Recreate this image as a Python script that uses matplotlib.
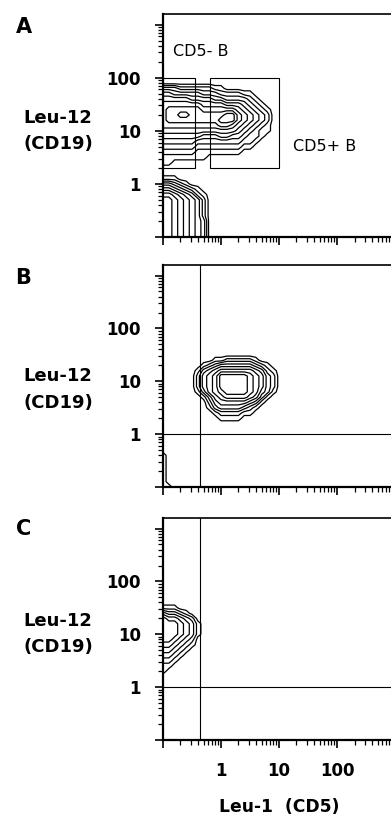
import numpy as np
import matplotlib
matplotlib.use('Agg')
import matplotlib.pyplot as plt
from matplotlib.patches import Rectangle

# Contour counts: each character says how many contour
# lines enclose that grid point.  Grid steps 0.1 decade on both axes,
# columns start at log10 = -1.0, rows run downwards from the given top.
grid_step = 0.1
grid_x0 = -1.0

a_top = 2.2
a_rows = [
    "000000000000000000000",
    "000000000000000000000",
    "000000000000000000000",
    "000000000000000000000",
    "333222222110000000000",
    "554444433322221100000",
    "666665555443333210000",
    "777777766665554321000",
    "788888877777765432100",
    "788998888889976543200",
    "788888888899976543200",
    "777777777788765432100",
    "666666666666654321100",
    "555555544455443221000",
    "444444333333332210000",
    "333333222222221100000",
    "222222111111110000000",
    "111111110000000000000",
    "110000000000000000000",
    "000000000000000000000",
    "000000000000000000000",
    "111000000000000000000",
    "443210000000000000000",
    "665432100000000000000",
    "887654210000000000000",
    "998765420000000000000",
    "998765420000000000000",
    "998765420000000000000",
    "998765420000000000000",
    "998765430000000000000",
    "998765430000000000000",
    "998765430000000000000",
    "998765430000000000000",
]

b_top = 1.6
b_rows = [
    "0000000000000000000000",
    "0000000000000000000000",
    "0000000001122222100000",
    "0000000123444444321000",
    "0000001345666666542100",
    "0000002456888887653200",
    "0000002456888887653200",
    "0000002456888887653200",
    "0000001356788887643100",
    "0000000135677776531000",
    "0000000024555554310000",
    "0000000013444432100000",
    "0000000001222211000000",
    "0000000000111100000000",
    "0000000000000000000000",
    "0000000000000000000000",
    "0000000000000000000000",
    "0000000000000000000000",
    "0000000000000000000000",
    "0000000000000000000000",
    "1000000000000000000000",
    "1000000000000000000000",
    "1000000000000000000000",
    "1000000000000000000000",
    "1000000000000000000000",
    "1000000000000000000000",
    "1100000000000000000000",
]

c_top = 1.7
c_rows = [
    "000000000000",
    "000000000000",
    "111000000000",
    "433210000000",
    "655432000000",
    "666543100000",
    "666543100000",
    "666543100000",
    "665432000000",
    "554321000000",
    "443210000000",
    "332100000000",
    "221000000000",
    "110000000000",
    "100000000000",
    "000000000000",
]

# gates
cd5_neg_box = (0.1, 0.356, 2.0, 100.0)     # x0, x1, y0, y1
cd5_pos_box = (0.646, 10.0, 2.0, 100.0)
cd5_cut = 0.435
cd19_cut = 1.0

tick_pos = [0.1, 1, 10, 100, 1000]
tick_text = ['', '1', '10', '100', '']
panel_names = ['A', 'B', 'C']
label_y = [10, 7, 10]

plt.rcParams['font.family'] = 'DejaVu Sans'

W, H = 391, 816
fig = plt.figure(figsize=(W / 100, H / 100), dpi=100)

# axes boxes in pixels: top, bottom
boxes = [(14, 237), (265, 487), (518, 740)]
left_px = 163


def level_grid(rows, top):
    z = np.array([[int(ch) for ch in r] for r in rows], dtype=float)
    xs = 10 ** (grid_x0 + grid_step * np.arange(z.shape[1]))
    ys = 10 ** (top - grid_step * np.arange(z.shape[0]))
    X, Y = np.meshgrid(xs, ys)
    return X, Y, z


axes = []
for i, (t, b) in enumerate(boxes):
    ax = fig.add_axes([left_px / W, 1 - b / H, (W - left_px) / W, (b - t) / H])
    ax.set_xscale('log')
    ax.set_yscale('log')
    ax.spines['right'].set_visible(False)
    ax.spines['left'].set_linewidth(1.6)
    ax.spines['bottom'].set_linewidth(1.6)
    ax.spines['top'].set_linewidth(1.2)

    ax.set_yticks(tick_pos, labels=tick_text)
    if i == 2:
        ax.set_xticks(tick_pos, labels=tick_text)
    else:
        ax.set_xticks(tick_pos, labels=[''] * len(tick_pos))
    ax.set_xlim(0.1, 10 ** 2.93)
    ax.set_ylim(0.1, 10 ** 3.2)
    ax.tick_params(which='major', direction='out', length=6, width=1.2,
                   labelsize=12)
    ax.tick_params(which='minor', direction='out', length=3.5, width=0.9)
    ax.tick_params(axis='y', which='major', pad=10)
    ax.tick_params(axis='x', which='major', pad=10)
    for lab in ax.get_xticklabels() + ax.get_yticklabels():
        lab.set_fontweight('bold')
    ax.tick_params(axis='x', top=False)
    ax.tick_params(axis='y', right=False)

    ax.text(-0.46, label_y[i], 'Leu-12\n(CD19)', transform=ax.get_yaxis_transform(),
            ha='center', va='center', fontsize=13, fontweight='bold',
            linespacing=1.6)
    fig.text(23.5 / W, 1 - (27 + 251 * i) / H, panel_names[i], ha='center', va='center',
             fontsize=15, fontweight='bold')
    axes.append(ax)

levels = np.arange(0.5, 9.6, 1.0)
for ax, rows, top in zip(axes, [a_rows, b_rows, c_rows], [a_top, b_top, c_top]):
    X, Y, Z = level_grid(rows, top)
    ax.contour(X, Y, Z, levels=levels, colors='black', linewidths=0.9)

# panel A gates
ax = axes[0]
for x0, x1, y0, y1 in [cd5_neg_box, cd5_pos_box]:
    ax.add_patch(Rectangle((x0, y0), x1 - x0, y1 - y0, fill=False,
                           edgecolor='black', linewidth=0.8))
ax.text(0.044, 0.83, 'CD5- B', transform=ax.transAxes, ha='left', va='center',
        fontsize=11.5)
ax.text(0.57, 0.404, 'CD5+ B', transform=ax.transAxes, ha='left', va='center',
        fontsize=11.5)

# quadrant gates for B and C
for ax in axes[1:]:
    ax.axvline(cd5_cut, color='black', linewidth=0.8)
    ax.axhline(cd19_cut, color='black', linewidth=0.8)

fig.text(279 / W, 1 - 807 / H, 'Leu-1  (CD5)', ha='center', va='center',
         fontsize=12.3, fontweight='bold')

fig.savefig('out.png', dpi=100)
